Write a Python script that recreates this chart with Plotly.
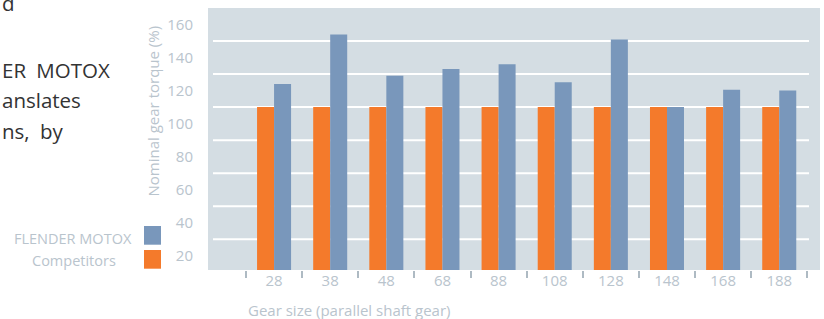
import plotly.graph_objects as go

# ---- data ----
gear_sizes = ["28", "38", "48", "68", "88", "108", "128", "148", "168", "188"]
flender_motox = [124, 154, 129, 133, 136, 125, 151, 110, 120.5, 120]
competitors = [110, 110, 110, 110, 110, 110, 110, 110, 110, 110]
y_tick_values = [20, 40, 60, 80, 100, 120, 140, 160]
grid_values = [30, 50, 70, 90, 110, 130, 150]

# ---- styling ----
W, H = 824, 319
PL, PR, PT, PB = 208, 820, 8, 270  # plot area in px
BLUE = "#7997bb"
ORANGE = "#f47a2b"
BG = "#d4dde3"
TXT = "#b9c4cd"
FONT = "Open Sans"


def px_x(px):
    return (px - PL) / (PR - PL)


def px_y(py):
    return (PB - py) / (PB - PT)


fig = go.Figure()
fig.add_trace(go.Bar(x=gear_sizes, y=competitors, name="Competitors",
                     marker=dict(color=ORANGE, line=dict(width=0))))
fig.add_trace(go.Bar(x=gear_sizes, y=flender_motox, name="FLENDER MOTOX",
                     marker=dict(color=BLUE, line=dict(width=0))))

shapes = []
for g in grid_values:
    shapes.append(dict(type="line", xref="paper", yref="y",
                       x0=px_x(213), x1=px_x(809), y0=g, y1=g,
                       line=dict(color="white", width=2), layer="below"))
# legend swatches
shapes.append(dict(type="rect", xref="paper", yref="paper",
                   x0=px_x(144), x1=px_x(161), y0=px_y(244.7), y1=px_y(226),
                   fillcolor=BLUE, line=dict(width=0)))
shapes.append(dict(type="rect", xref="paper", yref="paper",
                   x0=px_x(144), x1=px_x(161), y0=px_y(268.7), y1=px_y(250),
                   fillcolor=ORANGE, line=dict(width=0)))

annotations = [
    dict(text="FLENDER MOTOX", x=px_x(73), y=px_y(238), xref="paper", yref="paper",
         xanchor="center", yanchor="middle", showarrow=False,
         font=dict(family=FONT, size=14.5, color=TXT)),
    dict(text="Competitors", x=px_x(74), y=px_y(260), xref="paper", yref="paper",
         xanchor="center", yanchor="middle", showarrow=False,
         font=dict(family=FONT, size=14.5, color=TXT)),
    dict(text="Nominal gear torque (%)", x=px_x(152), y=px_y(111.5), xref="paper", yref="paper",
         xanchor="center", yanchor="middle", textangle=-90, showarrow=False,
         font=dict(family=FONT, size=15, color=TXT)),
    dict(text="Gear size (parallel shaft gear)", x=px_x(246), y=px_y(310), xref="paper", yref="paper",
         xanchor="left", yanchor="middle", showarrow=False,
         font=dict(family=FONT, size=15, color=TXT)),
]
# partially visible (justified) paragraph at the left edge
para = [("d", 3), ("ER\u2002MOTOX", 70), ("anslates", 100), ("ns,\u2002by", 131)]
for t, yc in para:
    annotations.append(dict(text=t, x=px_x(0), y=px_y(yc), xref="paper", yref="paper",
                            xanchor="left", yanchor="middle", showarrow=False,
                            font=dict(family=FONT, size=20.5, color="#333333")))

fig.update_layout(
    width=W, height=H,
    margin=dict(l=PL, r=W - PR, t=PT, b=H - PB, pad=0),
    paper_bgcolor="white", plot_bgcolor=BG,
    barmode="group", bargap=0.394, bargroupgap=0,
    showlegend=False,
    shapes=shapes, annotations=annotations,
    xaxis=dict(type="category", categoryorder="array", categoryarray=gear_sizes,
               range=[-1.177, 9.726], tickson="boundaries",
               ticks="outside", ticklen=7, tickwidth=2, tickcolor="#aebac3",
               showgrid=False, showline=False, zeroline=False,
               tickfont=dict(family=FONT, size=15, color=TXT)),
    yaxis=dict(range=[11.4, 170], tickmode="array", tickvals=y_tick_values,
               showgrid=False, showline=False, zeroline=False,
               ticks="outside", ticklen=11, tickcolor="rgba(0,0,0,0)",
               tickfont=dict(family=FONT, size=15, color=TXT)),
)

fig.write_html("out.html", config={"displayModeBar": False},
               post_script="document.body.style.margin='0';")
